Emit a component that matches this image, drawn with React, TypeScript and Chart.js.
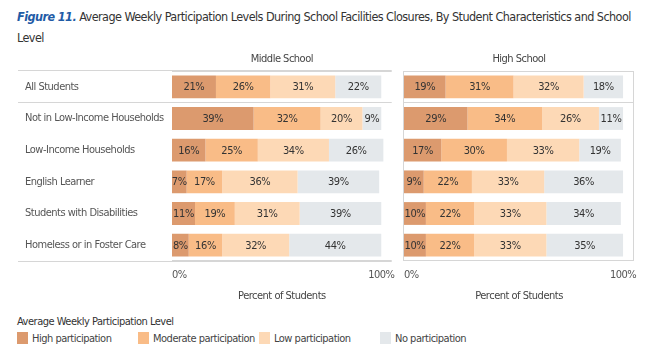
import React, { useEffect, useRef } from "react";
import { Chart, registerables } from "chart.js";

Chart.register(...registerables);

const FONT = '"DejaVu Sans Condensed", "DejaVu Sans", sans-serif';
const SPACING = "-0.5px";

const categories = [
  "All Students",
  "Not in Low-Income Households",
  "Low-Income Households",
  "English Learner",
  "Students with Disabilities",
  "Homeless or in Foster Care",
];

const seriesNames = ["High participation", "Moderate participation", "Low participation", "No participation"];
const seriesColors = ["#dc9a6e", "#f9bc87", "#fdd9b6", "#e4e8eb"];

const middleHigh = [21, 39, 16, 7, 11, 8];
const middleModerate = [26, 32, 25, 17, 19, 16];
const middleLow = [31, 20, 34, 36, 31, 32];
const middleNone = [22, 9, 26, 39, 39, 44];

const highHigh = [19, 29, 17, 9, 10, 10];
const highModerate = [31, 34, 30, 22, 22, 22];
const highLow = [32, 26, 33, 33, 33, 33];
const highNone = [18, 11, 19, 36, 34, 35];

const xTicks = [0, 100];
const xMax = 105;
const panelTitles = ["Middle School", "High School"];
const axisTitle = "Percent of Students";
const legendTitle = "Average Weekly Participation Level";

const LINE = "#d6d6d6";

const condensed = {
  id: "condensed",
  beforeDraw(chart: any) {
    (chart.ctx as any).letterSpacing = SPACING;
    const s = chart.scales.x;
    const items = s && s.getLabelItems ? s.getLabelItems() : null;
    if (items && items[0]) items[0].options.textAlign = "left";
  },
};

const barLabels = {
  id: "barLabels",
  afterDatasetsDraw(chart: any) {
    const ctx = chart.ctx;
    ctx.save();
    (ctx as any).letterSpacing = "-0.4px";
    ctx.font = `11px ${FONT}`;
    ctx.fillStyle = "#333";
    ctx.textAlign = "center";
    ctx.textBaseline = "middle";
    chart.data.datasets.forEach((ds: any, i: number) => {
      const meta = chart.getDatasetMeta(i);
      meta.data.forEach((el: any, j: number) => {
        const { x, base, y } = el.getProps(["x", "base", "y"], true);
        ctx.fillText(ds.data[j] + "%", (x + base) / 2, y + 0.5);
      });
    });
    ctx.restore();
  },
};

const panelBorder = {
  id: "panelBorder",
  beforeDatasetsDraw(chart: any, _args: any, opts: any) {
    const { ctx, chartArea } = chart;
    const { left, right, top, bottom } = chartArea;
    ctx.save();
    ctx.strokeStyle = LINE;
    ctx.lineWidth = 1;
    ctx.beginPath();
    ctx.moveTo(left, top + 0.5);
    ctx.lineTo(right, top + 0.5);
    ctx.moveTo(left, bottom - 0.5);
    ctx.lineTo(right, bottom - 0.5);
    if (opts.right) {
      ctx.moveTo(right - 0.5, top);
      ctx.lineTo(right - 0.5, bottom);
    }
    if (opts.left) {
      ctx.moveTo(left - 0.5, top);
      ctx.lineTo(left - 0.5, bottom);
    }
    ctx.stroke();
    ctx.restore();
  },
};

function makeConfig(values: number[][], title: string, withLabels: boolean, padLeft: number, padRight: number, border: any) {
  const gridColor = (c: any) => {
    if (c.type !== "tick") return withLabels ? LINE : "rgba(0,0,0,0)";
    if (c.index === 1) return LINE;
    if (c.index === 0 && withLabels) return LINE;
    return "rgba(0,0,0,0)";
  };
  return {
    type: "bar" as const,
    data: {
      labels: categories,
      datasets: seriesNames.map((name, i) => ({
        label: name,
        data: values[i],
        backgroundColor: seriesColors[i],
        borderWidth: 0,
        barPercentage: 0.72,
        categoryPercentage: 1,
        xAxisID: "x",
      })),
    },
    options: {
      indexAxis: "y" as const,
      responsive: false,
      animation: false as const,
      events: [],
      layout: { padding: { left: padLeft, right: padRight, top: 0, bottom: 0 } },
      plugins: {
        legend: { display: false },
        tooltip: { enabled: false },
        panelBorder: border,
      },
      scales: {
        x: {
          type: "linear" as const,
          position: "bottom" as const,
          stacked: true,
          min: 0,
          max: xMax,
          afterBuildTicks: (s: any) => {
            s.ticks = xTicks.map((v) => ({ value: v }));
          },
          afterFit: (s: any) => {
            s.height = 49;
          },
          grid: { display: false, drawTicks: false },
          border: { display: false },
          ticks: {
            padding: 8,
            color: "#555",
            font: { family: FONT, size: 11 },
            maxRotation: 0,
            autoSkip: false,
            callback: (v: any) => v + "%",
          },
          title: {
            display: true,
            text: axisTitle,
            color: "#444",
            font: { family: FONT, size: 11 },
            padding: { top: 0, bottom: 7 },
          },
        },
        x2: {
          type: "linear" as const,
          position: "top" as const,
          min: 0,
          max: xMax,
          afterFit: (s: any) => {
            s.height = 23;
          },
          grid: { display: false, drawTicks: false },
          border: { display: false },
          ticks: { display: false },
          title: {
            display: true,
            text: title,
            color: "#444",
            font: { family: FONT, size: 11 },
            padding: { top: 5, bottom: 0 },
          },
        },
        y: {
          type: "category" as const,
          stacked: true,
          position: "left" as const,
          afterFit: (s: any) => {
            s.width = withLabels ? 147 : 0;
          },
          grid: {
            display: true,
            offset: true,
            color: gridColor,
            tickColor: gridColor,
            drawTicks: withLabels,
            tickLength: 154,
            lineWidth: 1,
          },
          border: { display: false },
          ticks: {
            display: withLabels,
            crossAlign: "far" as const,
            color: "#555",
            font: { family: FONT, size: 11 },
            padding: 0,
          },
        },
      },
    },
    plugins: [condensed, panelBorder, barLabels],
  };
}

export default function App() {
  const midRef = useRef<HTMLCanvasElement>(null);
  const highRef = useRef<HTMLCanvasElement>(null);

  useEffect(() => {
    Chart.defaults.font.family = FONT;
    const c1 = new Chart(
      midRef.current as HTMLCanvasElement,
      makeConfig([middleHigh, middleModerate, middleLow, middleNone], panelTitles[0], true, 25, 1, { left: false, right: false }) as any
    );
    const c2 = new Chart(
      highRef.current as HTMLCanvasElement,
      makeConfig([highHigh, highModerate, highLow, highNone], panelTitles[1], false, 24, 30, { left: true, right: true }) as any
    );
    return () => {
      c1.destroy();
      c2.destroy();
    };
  }, []);

  return (
    <div
      style={{
        position: "absolute",
        left: 0,
        top: 0,
        width: 664,
        height: 357,
        background: "#fff",
        overflow: "hidden",
        fontFamily: FONT,
        color: "#333",
      }}
    >
      <div
        style={{
          position: "absolute",
          left: 17,
          top: 6,
          fontSize: 12.5,
          lineHeight: "21px",
          letterSpacing: "-0.55px",
          whiteSpace: "nowrap",
        }}
      >
        <div>
          <span style={{ color: "#1f5ba6", fontWeight: "bold", fontStyle: "italic" }}>Figure 11.</span> Average Weekly
          Participation Levels During School Facilities Closures, By Student Characteristics and School
        </div>
        <div>Level</div>
      </div>
      <canvas ref={midRef} width={404} height={262} style={{ position: "absolute", left: 0, top: 48, width: 404, height: 262 }} />
      <canvas ref={highRef} width={284} height={262} style={{ position: "absolute", left: 380, top: 48, width: 284, height: 262 }} />
      <div
        style={{
          position: "absolute",
          left: 17,
          top: 315,
          fontSize: 11,
          lineHeight: "14px",
          letterSpacing: "-0.5px",
          color: "#333",
          whiteSpace: "nowrap",
        }}
      >
        {legendTitle}
      </div>
      {seriesNames.map((name, i) => (
        <div
          key={name}
          style={{
            position: "absolute",
            left: 17 + i * 121,
            top: 331,
            height: 14,
            display: "flex",
            alignItems: "center",
            fontSize: 11,
            letterSpacing: "-0.5px",
            color: "#444",
            whiteSpace: "nowrap",
          }}
        >
          <span style={{ display: "inline-block", width: 11, height: 12, background: seriesColors[i], marginRight: 4, flex: "none" }} />
          {name}
        </div>
      ))}
    </div>
  );
}
